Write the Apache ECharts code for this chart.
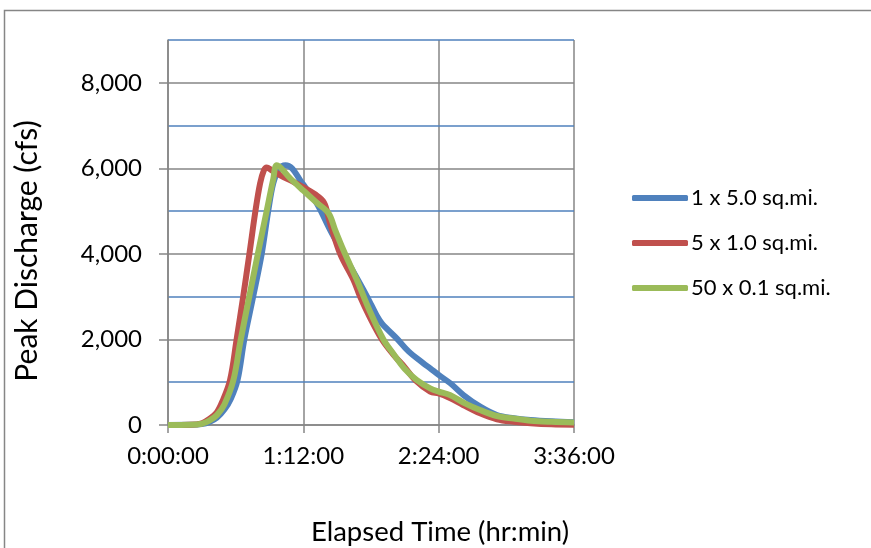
<!DOCTYPE html>
<html>
<head>
<meta charset="utf-8">
<script src="https://cdn.jsdelivr.net/npm/echarts@6/dist/echarts.min.js"></script>
<style>
html,body{margin:0;padding:0;background:#fff;}
#chart{width:871px;height:548px;}
</style>
</head>
<body>
<div id="chart"></div>
<script>
// ---- data (minutes elapsed, discharge in cfs) ----
const seriesNames = ['1 x 5.0 sq.mi.', '5 x 1.0 sq.mi.', '50 x 0.1 sq.mi.'];

const blueTime = [0, 12, 18, 22, 26, 30, 33.5, 37, 40.6, 45.3, 49.9, 53.4, 56, 59, 62.5, 66, 70.3, 73, 79.2, 86.3, 92, 98, 104, 108, 111, 114, 121.8, 128, 135.9, 139.5, 144, 150.2, 157.2, 166.1, 175, 184, 192.8, 204, 216];
const blueFlow = [0, 3, 20, 70, 170, 360, 620, 1050, 2000, 3000, 4012, 5025, 5650, 5980, 6070, 6000, 5725, 5560, 5180, 4557, 4100, 3630, 3155, 2820, 2560, 2360, 2020, 1720, 1442, 1324, 1170, 975, 700, 428, 234, 160, 117, 85, 63];

const redTime = [0, 12, 18, 22, 26, 29, 33, 36.5, 40, 43.3, 46.5, 49, 51, 52.5, 55, 60, 66, 72, 78, 83, 86, 91.6, 98.7, 102.2, 107, 113.8, 120, 126, 131.5, 139.5, 144, 150, 157, 166, 175, 184, 193, 204, 216];
const redFlow = [0, 5, 40, 140, 300, 560, 1050, 2000, 3000, 4000, 5000, 5650, 5950, 6020, 5960, 5830, 5700, 5560, 5400, 5200, 4750, 4000, 3390, 3000, 2550, 2000, 1640, 1348, 1050, 780, 740, 630, 467, 273, 133, 75, 40, 15, 5];

const greenTime = [0, 12, 18, 22, 26, 30, 34.8, 38.5, 43, 47.8, 52.6, 56, 57.9, 65, 72, 79, 85.4, 89, 93.3, 100.5, 107, 114.6, 120, 126, 132.4, 139.5, 144, 150, 158, 166, 175, 184, 193, 204, 216];
const greenFlow = [0, 5, 30, 100, 230, 480, 1050, 1950, 2950, 4000, 5025, 5750, 6070, 5765, 5480, 5200, 4950, 4550, 4090, 3390, 2700, 2000, 1660, 1310, 1050, 857, 780, 700, 507, 350, 210, 150, 100, 75, 60];

const xTicks = [0, 72, 144, 216];         // minutes: 0:00:00, 1:12:00, 2:24:00, 3:36:00
const yTicks = [0, 2000, 4000, 6000, 8000];

function pairs(t, v) { return t.map((x, i) => [x, v[i]]); }
function fmtTime(m) {
  const h = Math.floor(m / 60), mm = Math.round(m % 60);
  return h + ':' + (mm < 10 ? '0' : '') + mm + ':00';
}

const FONT = 'Lato, "Open Sans", sans-serif';
const colors = ['#4F81BD', '#C0504D', '#9BBB59'];

const chart = echarts.init(document.getElementById('chart'), null, {renderer: 'canvas'});
chart.setOption({
  animation: false,
  backgroundColor: '#fff',
  color: colors,
  grid: {left: 168, top: 40, right: 297, bottom: 123, containLabel: false},
  xAxis: {
    type: 'value', min: 0, max: 216, interval: 72,
    axisLine: {show: true, lineStyle: {color: '#868686', width: 1.5}},
    axisTick: {show: true, length: 8, lineStyle: {color: '#868686', width: 1.5}},
    axisLabel: {margin: 19, color: '#000', fontFamily: FONT, fontSize: 24, formatter: v => fmtTime(v)},
    splitLine: {show: true, lineStyle: {color: '#868686', width: 1.5}}
  },
  yAxis: [
    {
      // gridlines every 1000: grey at even thousands, blue at odd thousands
      type: 'value', min: 0, max: 9000, interval: 1000, z: 1,
      axisLine: {show: false}, axisTick: {show: false}, axisLabel: {show: false},
      splitLine: {show: true, lineStyle: {color: ['#868686', '#4F81BD'], width: 1.5}}
    },
    {
      // labelled axis: ticks and labels every 2000
      type: 'value', min: 0, max: 9000, interval: 1000, position: 'left', offset: 0, z: 3,
      axisLine: {show: true, lineStyle: {color: '#868686', width: 1.5}},
      axisTick: {show: true, length: 9, customValues: yTicks, lineStyle: {color: '#868686', width: 1.5}},
      axisLabel: {margin: 26, customValues: yTicks, color: '#000', fontFamily: FONT, fontSize: 24,
        formatter: v => v.toLocaleString('en-US')},
      splitLine: {show: false}
    }
  ],
  legend: {
    orient: 'vertical', left: 632, top: 186, padding: 0,
    itemWidth: 56, itemHeight: 6, itemGap: 21, icon: 'roundRect',
    textStyle: {fontFamily: FONT, fontSize: 22, color: '#000', lineHeight: 24, padding: [0, 0, 0, -2]},
    data: seriesNames
  },
  series: [
    {name: seriesNames[0], type: 'line', yAxisIndex: 0, data: pairs(blueTime, blueFlow), smooth: 0.35, showSymbol: false, symbol: 'none', lineStyle: {width: 6, color: colors[0]}, z: 2},
    {name: seriesNames[1], type: 'line', yAxisIndex: 0, data: pairs(redTime, redFlow), smooth: 0.35, showSymbol: false, symbol: 'none', lineStyle: {width: 6, color: colors[1]}, z: 3},
    {name: seriesNames[2], type: 'line', yAxisIndex: 0, data: pairs(greenTime, greenFlow), smooth: 0.35, showSymbol: false, symbol: 'none', lineStyle: {width: 6, color: colors[2]}, z: 4}
  ],
  graphic: [
    {type: 'rect', shape: {x: 4.5, y: 10.5, width: 920, height: 620}, style: {fill: 'none', stroke: '#868686', lineWidth: 1.5}, silent: true, z: -1},
    {type: 'text', x: 27, y: 251, rotation: Math.PI / 2,
      style: {text: 'Peak Discharge (cfs)', font: '30px ' + FONT, fill: '#000', textAlign: 'center', textVerticalAlign: 'middle'}},
    {type: 'text', x: 440, y: 532,
      style: {text: 'Elapsed Time (hr:min)', font: '27.5px ' + FONT, fill: '#000', textAlign: 'center', textVerticalAlign: 'middle'}}
  ]
});
</script>
</body>
</html>
